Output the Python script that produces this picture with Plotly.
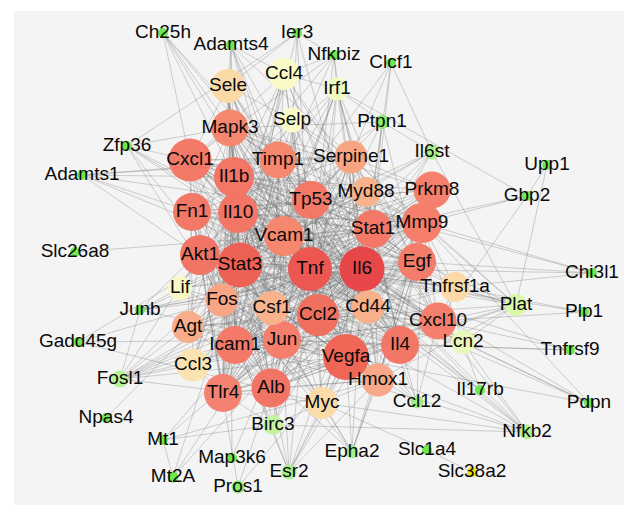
import plotly.graph_objects as go

# ---- node data ----
nodes = ["Il6", "Tnf", "Stat3", "Vegfa", "Ccl2", "Akt1", "Tp53", "Il1b", "Il10", "Fn1",
         "Cxcl1", "Stat1", "Mmp9", "Il4", "Alb", "Mapk3", "Timp1", "Vcam1", "Prkm8", "Egf",
         "Cxcl10", "Icam1", "Jun", "Tlr4", "Serpine1", "Myd88", "Fos", "Csf1", "Cd44", "Agt",
         "Hmox1", "Sele", "Tnfrsf1a", "Ccl3", "Myc", "Ccl4", "Selp", "Lif", "Irf1", "Lcn2",
         "Plat", "Birc3", "Il6st", "Fosl1", "Esr2", "Nfkb2", "Epha2", "Ccl12", "Ch25h", "Adamts4",
         "Ier3", "Nfkbiz", "Clcf1", "Ptpn1", "Upp1", "Gbp2", "Chi3l1", "Plp1", "Tnfrsf9", "Pdpn",
         "Il17rb", "Slc1a4", "Slc38a2", "Zfp36", "Adamts1", "Slc26a8", "Junb", "Gadd45g", "Npas4", "Mt1",
         "Mt2A", "Map3k6", "Pros1"]

node_x = [362, 310, 240, 346, 318, 200, 311, 234, 238, 192,
          190, 373, 422, 400, 271, 230, 278, 284, 432, 417,
          438, 235, 282, 223, 351, 366, 222, 272, 368, 188,
          378, 228, 455, 193, 322, 284, 292, 180, 337, 463,
          516, 273, 432, 120, 289, 527, 352, 417, 163, 231,
          297, 334, 391, 382, 547, 527, 592, 584, 570, 589,
          480, 427, 472, 127, 82, 75, 140, 78, 106, 163,
          173, 232, 238]

node_y = [269, 269, 265, 357, 315, 255, 200, 177, 213, 212,
          160, 229, 223, 345, 388, 128, 160, 236, 190, 262,
          321, 345, 340, 393, 157, 192, 300, 308, 307, 327,
          380, 86, 287, 365, 403, 74, 120, 288, 89, 342,
          305, 425, 152, 379, 472, 432, 452, 402, 33, 45,
          33, 55, 63, 122, 165, 196, 273, 312, 350, 403,
          390, 450, 472, 146, 175, 252, 310, 342, 418, 440,
          477, 458, 487]

node_d = [45, 44, 45, 46, 42, 40, 38, 40, 40, 38,
          43, 38, 40, 38, 39, 37, 37, 40, 37, 38,
          37, 38, 38, 38, 33, 30, 33, 34, 33, 32,
          33, 34, 30, 33, 32, 32, 25, 24, 23, 24,
          22, 20, 15, 17, 15, 15, 13, 13, 10, 10,
          10, 10, 10, 14, 10, 10, 10, 10, 10, 10,
          10, 10, 10, 10, 10, 10, 10, 10, 10, 10,
          11, 10, 13]

node_color = ["#e8474a", "#ec5752", "#ee6156", "#ef6556", "#f07060", "#f27464", "#f37868", "#f27565", "#f27565", "#f27868",
              "#f37a68", "#f37868", "#f57e6c", "#f27767", "#f27464", "#f5876f", "#f5886f", "#f5876f", "#f5806e", "#f47c6b",
              "#f47f6d", "#f37a69", "#f47f6c", "#f48270", "#f7a482", "#f8b38c", "#f7a584", "#f8b38d", "#f8b08a", "#f7ad89",
              "#f8a888", "#fbdaa8", "#fbdaa7", "#fbe3b1", "#fbdca9", "#fafac8", "#fafac8", "#f7f8c5", "#eefbc1", "#e8f8b8",
              "#d8f8a8", "#c5f3a0", "#aaf08a", "#b5f296", "#aaf08c", "#b5f296", "#a5ef88", "#9fee84", "#6fe84f", "#6fe84f",
              "#6fe84f", "#6fe84f", "#6fe84f", "#8cec6c", "#6fe84f", "#6fe84f", "#6fe84f", "#6fe84f", "#6fe84f", "#6fe84f",
              "#6fe84f", "#6fe84f", "#f2e600", "#6fe84f", "#6fe84f", "#6fe84f", "#6fe84f", "#6fe84f", "#6fe84f", "#6fe84f",
              "#6fe84f", "#6fe84f", "#8cec6c"]

# ---- edges (node: neighbours) ----
edge_lists = """
Il6: Tnf Stat3 Vegfa Ccl2 Akt1 Tp53 Il1b Il10 Fn1 Cxcl1 Stat1 Mmp9 Il4 Alb Mapk3 Timp1 Vcam1 Prkm8 Egf Cxcl10 Icam1 Jun Tlr4 Serpine1 Myd88 Fos Csf1 Cd44 Agt Hmox1
Tnf: Stat3 Vegfa Ccl2 Akt1 Tp53 Il1b Il10 Fn1 Cxcl1 Stat1 Mmp9 Il4 Alb Mapk3 Timp1 Vcam1 Prkm8 Egf Cxcl10 Icam1 Jun Tlr4 Serpine1 Myd88 Fos Csf1 Cd44 Agt Hmox1
Stat3: Vegfa Ccl2 Akt1 Tp53 Il1b Il10 Fn1 Cxcl1 Stat1 Mmp9 Il4 Alb Mapk3 Timp1 Vcam1 Prkm8 Egf Cxcl10 Icam1 Jun Tlr4 Serpine1 Myd88 Fos Csf1 Cd44 Hmox1
Vegfa: Ccl2 Akt1 Tp53 Il1b Il10 Fn1 Cxcl1 Stat1 Mmp9 Il4 Alb Mapk3 Timp1 Vcam1 Prkm8 Egf Cxcl10 Icam1 Jun Tlr4 Serpine1 Fos Csf1 Cd44 Agt Hmox1
Ccl2: Akt1 Tp53 Il1b Il10 Fn1 Cxcl1 Stat1 Mmp9 Il4 Alb Mapk3 Timp1 Vcam1 Egf Cxcl10 Icam1 Jun Tlr4 Serpine1 Myd88 Csf1 Cd44 Agt Hmox1
Akt1: Tp53 Il1b Il10 Fn1 Stat1 Mmp9 Il4 Alb Mapk3 Timp1 Vcam1 Prkm8 Egf Icam1 Jun Tlr4 Serpine1 Myd88 Fos Cd44 Agt Hmox1
Tp53: Il1b Il10 Fn1 Stat1 Mmp9 Il4 Alb Mapk3 Timp1 Vcam1 Prkm8 Egf Icam1 Jun Tlr4 Serpine1 Fos Cd44 Hmox1
Il1b: Il10 Fn1 Cxcl1 Stat1 Mmp9 Il4 Alb Mapk3 Timp1 Vcam1 Prkm8 Egf Cxcl10 Icam1 Jun Tlr4 Serpine1 Myd88 Fos Csf1 Cd44 Agt Hmox1
Il10: Fn1 Cxcl1 Stat1 Mmp9 Il4 Alb Mapk3 Timp1 Vcam1 Egf Cxcl10 Icam1 Jun Tlr4 Myd88 Fos Csf1 Cd44 Hmox1
Fn1: Cxcl1 Stat1 Mmp9 Il4 Alb Mapk3 Timp1 Vcam1 Prkm8 Egf Icam1 Jun Tlr4 Serpine1 Fos Cd44 Agt
Cxcl1: Stat1 Mmp9 Il4 Alb Mapk3 Timp1 Vcam1 Egf Cxcl10 Icam1 Tlr4 Serpine1 Myd88 Csf1 Cd44 Hmox1
Stat1: Mmp9 Il4 Alb Mapk3 Vcam1 Prkm8 Egf Cxcl10 Icam1 Jun Tlr4 Myd88 Fos Csf1 Cd44 Hmox1
Mmp9: Il4 Alb Mapk3 Timp1 Vcam1 Prkm8 Egf Cxcl10 Icam1 Jun Tlr4 Serpine1 Myd88 Fos Csf1 Cd44 Agt Hmox1
Il4: Alb Mapk3 Timp1 Vcam1 Egf Cxcl10 Icam1 Jun Tlr4 Myd88 Fos Csf1 Cd44 Hmox1
Alb: Mapk3 Timp1 Vcam1 Prkm8 Egf Cxcl10 Icam1 Jun Tlr4 Serpine1 Fos Cd44 Agt Hmox1
Mapk3: Timp1 Prkm8 Egf Icam1 Jun Tlr4 Serpine1 Myd88 Fos Csf1 Cd44 Hmox1
Timp1: Vcam1 Egf Icam1 Jun Tlr4 Serpine1 Fos Cd44 Agt
Vcam1: Egf Cxcl10 Icam1 Jun Tlr4 Serpine1 Myd88 Csf1 Cd44 Hmox1
Prkm8: Egf Icam1 Jun Tlr4 Serpine1 Fos Hmox1
Egf: Cxcl10 Icam1 Jun Tlr4 Serpine1 Fos Cd44 Agt Hmox1
Cxcl10: Icam1 Jun Tlr4 Myd88 Csf1 Cd44
Icam1: Jun Tlr4 Serpine1 Myd88 Fos Csf1 Cd44 Hmox1
Jun: Tlr4 Serpine1 Myd88 Fos Csf1 Cd44 Agt Hmox1
Tlr4: Serpine1 Myd88 Fos Csf1 Cd44 Hmox1
Serpine1: Fos Cd44 Agt Hmox1
Myd88: Fos Csf1
Fos: Csf1 Agt Hmox1
Csf1: Cd44
Cd44: Agt
Agt: Hmox1
Ch25h: Cxcl1 Mapk3 Timp1 Il1b Tnf Il6
Adamts4: Sele Ccl4 Mapk3 Timp1 Il1b Tnf Il6 Serpine1 Vcam1
Ier3: Zfp36 Il6 Tnf Stat3 Nfkbiz Sele Jun
Nfkbiz: Irf1 Il6 Tnf Ccl4 Stat3 Il1b Cxcl1
Clcf1: Il6st Il6 Stat3 Serpine1 Stat1
Irf1: Tnf Il6 Stat1 Stat3 Cxcl10 Il1b Ccl4 Ccl2 Ptpn1 Icam1 Vcam1 Myd88 Tlr4 Il10 Il4
Ptpn1: Stat3 Stat1 Il6st Akt1 Egf Il6 Tnf Mapk3
Il6st: Il6 Stat3 Stat1 Lif Tnf Akt1 Plat
Upp1: Plat Gbp2
Gbp2: Stat1 Irf1 Mmp9 Cxcl10
Chi3l1: Mmp9 Il6 Egf Tnfrsf1a Il1b
Plp1: Tnf Cxcl10
Plat: Serpine1 Mmp9 Egf Tnf Il6 Vegfa Alb Cxcl10 Lcn2 Tnfrsf1a Fn1 Agt Hmox1
Tnfrsf9: Tnf Il4 Jun Cxcl10
Pdpn: Cd44 Vegfa Mmp9 Il6 Tnf Lcn2
Nfkb2: Birc3 Myc Tnf Il6 Ccl2 Cxcl10 Lcn2 Vcam1 Icam1 Il1b Jun
Il17rb: Il6 Lcn2 Cxcl1 Tnf
Ccl12: Il4 Cxcl10 Il6 Tnf Vegfa Mmp9 Ccl2
Slc1a4: Myc
Slc38a2: Slc1a4
Epha2: Vegfa Egf Akt1 Mmp9 Icam1 Il6 Stat3
Esr2: Alb Vegfa Mmp9 Fos Jun Egf Akt1 Tnf Il6
Birc3: Tnf Il6 Stat3 Tlr4 Jun Myc Icam1 Ccl2 Mt1
Map3k6: Jun Mapk3
Pros1: Alb Fn1 Vegfa
Mt2A: Mt1 Il6 Tnf Stat3
Mt1: Il6 Tnf Hmox1
Npas4: Fos
Fosl1: Jun Fos Il6 Tnf Mmp9 Vegfa Stat3 Junb Akt1 Myc Ccl2 Ccl3 Egf
Gadd45g: Tp53 Jun Myc Fos
Junb: Jun Fos Lif Il6 Stat3 Tnf Egf Il10
Lif: Il6 Stat3 Akt1 Jun Tnf Fos
Slc26a8: Vcam1
Adamts1: Vegfa Fn1 Tnf Il1b Serpine1 Timp1 Mmp9
Zfp36: Tnf Il6 Il10 Cxcl1 Jun Fos Mapk3
Sele: Icam1 Vcam1 Selp Tnf Il6 Il1b Cxcl1 Ccl2 Il10 Il4 Mapk3 Stat3 Vegfa Tlr4 Cd44
Ccl4: Ccl3 Ccl2 Tnf Il6 Il1b Il10 Il4 Cxcl10 Cxcl1 Stat3 Myd88 Tlr4 Csf1
Selp: Icam1 Vcam1 Tnf Il6 Il1b Il10 Ccl2 Cd44 Vegfa Serpine1 Mmp9
Tnfrsf1a: Tnf Il6 Stat3 Jun Ccl2 Il1b Myd88 Egf Akt1 Mmp9 Cxcl10 Plp1
Lcn2: Il6 Tnf Mmp9 Il1b Cxcl10 Cxcl1 Stat3 Ccl2
Myc: Tp53 Stat3 Akt1 Jun Fos Egf Vegfa Tnf Il6 Stat1 Mapk3 Hmox1 Epha2
Ccl3: Ccl2 Tnf Il6 Il1b Il10 Cxcl10 Cxcl1 Csf1 Tlr4 Icam1 Jun Stat3
Hmox1: Epha2 Esr2
"""

idx = {n: i for i, n in enumerate(nodes)}
edges = []
for line in edge_lists.strip().splitlines():
    src, rest = line.split(":")
    for dst in rest.split():
        edges.append((src.strip(), dst))

ex, ey = [], []
for a, b in edges:
    ia, ib = idx[a], idx[b]
    ex += [node_x[ia], node_x[ib], None]
    ey += [node_y[ia], node_y[ib], None]

fig = go.Figure()
fig.add_shape(type="rect", x0=14, x1=624, y0=11, y1=505, xref="x", yref="y",
              fillcolor="#f4f4f4", line=dict(width=0), layer="below")

fig.add_trace(go.Scatter(x=ex, y=ey, mode="lines",
                         line=dict(color="rgba(105,105,105,0.42)", width=0.7),
                         hoverinfo="skip", showlegend=False))

fig.add_trace(go.Scatter(x=node_x, y=node_y, mode="markers",
                         marker=dict(size=node_d, color=node_color, line=dict(width=0), opacity=1),
                         hoverinfo="text", hovertext=nodes, showlegend=False))

fig.add_trace(go.Scatter(x=node_x, y=node_y, mode="text", text=nodes,
                         textposition="middle center",
                         textfont=dict(family="Liberation Sans, Arial, sans-serif", size=19, color="#0a0a0a"),
                         hoverinfo="skip", showlegend=False))

fig.update_layout(width=624, height=507, margin=dict(l=0, r=0, t=0, b=0),
                  paper_bgcolor="white", plot_bgcolor="white",
                  xaxis=dict(range=[0, 624], visible=False, fixedrange=True),
                  yaxis=dict(range=[507, 0], visible=False, fixedrange=True))

fig.write_html("out.html", config={"displayModeBar": False},
               post_script="document.body.style.margin='0';document.body.style.padding='0';document.body.style.overflow='hidden';")
